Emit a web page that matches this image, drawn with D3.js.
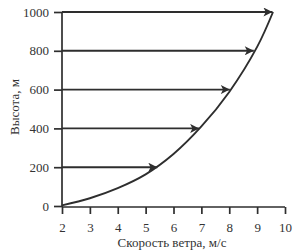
<!DOCTYPE html>
<html><head><meta charset="utf-8">
<script src="https://cdn.jsdelivr.net/npm/d3@7"></script>
<style>body{margin:0;background:#fff}svg{display:block}text{font-family:"Liberation Serif","DejaVu Serif",serif;fill:#333}</style>
</head><body><svg id="c" width="294" height="252"></svg>
<script>
const speedTicks = [2,3,4,5,6,7,8,9,10];
const heightTicks = [0,200,400,600,800,1000];
const profileSpeed = [2, 3, 4, 5, 6, 7, 8, 9, 9.57];
const profileHeight = [3, 40, 92, 163, 268, 410, 588, 820, 1000];
const arrowHeight = [200, 400, 600, 800, 1000];
const arrowSpeed = [5.42, 6.92, 8.02, 8.88, 9.55];

const svg = d3.select("#c");
const x = d3.scaleLinear().domain([2,10]).range([62,285]);
const y = d3.scaleLinear().domain([0,1000]).range([206,12]);
const ink = "#2e2e2e";

svg.append("defs").append("marker").attr("id","ah").attr("viewBox","0 0 10 10")
  .attr("refX",10).attr("refY",5).attr("markerWidth",11).attr("markerHeight",9)
  .attr("markerUnits","userSpaceOnUse").attr("orient","auto")
  .append("path").attr("d","M0,0 L10,5 L0,10 L2.5,5 Z").attr("fill",ink);

const ya = svg.append("g").attr("transform","translate(62,0)")
  .call(d3.axisLeft(y).tickValues(heightTicks).tickFormat(d3.format("d")).tickSize(8).tickPadding(5));
const xa = svg.append("g").attr("transform","translate(0,207)")
  .call(d3.axisBottom(x).tickValues(speedTicks).tickFormat(d3.format("d")).tickSize(7).tickPadding(9));
[ya,xa].forEach(g=>{
  g.selectAll("path,line").attr("stroke",ink).attr("stroke-width",1.7);
  g.selectAll("text").attr("font-size",13).attr("fill",ink).style("font-family","Liberation Serif");
});
xa.select(".domain").attr("d","M62,0H285");
ya.select(".domain").attr("d","M0,12V207");

svg.append("g").selectAll("line").data(arrowHeight).join("line")
  .attr("x1",62).attr("x2",(d,i)=>x(arrowSpeed[i]))
  .attr("y1",d=>y(d)).attr("y2",d=>y(d))
  .attr("stroke",ink).attr("stroke-width",1.9).attr("marker-end","url(#ah)");

const pts = profileSpeed.map((s,i)=>[s,profileHeight[i]]);
svg.append("path").datum(pts)
  .attr("d",d3.line().x(d=>x(d[0])).y(d=>y(d[1])).curve(d3.curveCatmullRom))
  .attr("fill","none").attr("stroke",ink).attr("stroke-width",1.9);

svg.append("text").attr("x",172).attr("y",247).attr("text-anchor","middle")
  .attr("font-size",13).text("Скорость ветра, м/с");
svg.append("text").attr("transform","translate(19,107) rotate(-90)").attr("text-anchor","middle")
  .attr("font-size",13).text("Высота, м");
</script></body></html>
